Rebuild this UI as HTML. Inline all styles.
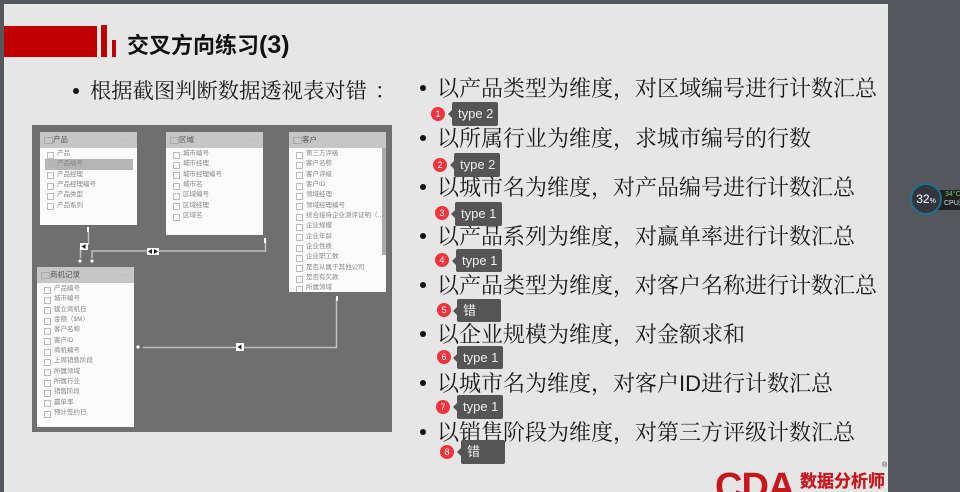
<!DOCTYPE html>
<html lang="zh">
<head>
<meta charset="utf-8">
<title>交叉方向练习(3)</title>
<style>
html,body{margin:0;padding:0;width:960px;height:492px;overflow:hidden;background:#54585c}
*{box-sizing:border-box}
#slide{position:absolute;left:4px;top:4px;width:884px;height:488px;background:#e6e6e6}
.a{position:absolute}
.title{position:absolute;left:127px;top:30px;font:bold 22px/30px "Liberation Sans","Noto Sans CJK SC",sans-serif;color:#111;white-space:nowrap}
.title span{font-size:25px}
.s{position:absolute;font:21.3px/30px "Liberation Serif","Noto Serif CJK SC",serif;color:#1a1a1a;white-space:nowrap}
.s span{position:relative;left:8px}
.l{position:absolute;left:437px;font:22px/30px "Liberation Sans","Noto Serif CJK SC",serif;color:#1a1a1a;white-space:nowrap}
.b{position:absolute;width:6px;height:6px;border-radius:50%;background:#111}
.tip{position:absolute;background:#555;border-radius:2px;color:#f0f0f0;font:13px/24px "Liberation Sans","Noto Sans CJK SC",sans-serif;padding-left:6px;white-space:nowrap}
.tip:before{content:"";position:absolute;left:-4px;top:8px;border:4px solid transparent;border-left:0;border-right-color:#555}
.c{position:absolute;width:14px;height:14px;border-radius:50%;background:#f0333c;color:#fff;font:9px/14px "Liberation Sans",sans-serif;text-align:center}
#dia{position:absolute;left:32px;top:125px;width:360px;height:307px;background:#6f6f6f}
.t{position:absolute;background:#fbfbfb;font:6.5px/10.35px "Liberation Sans","Noto Sans CJK SC",sans-serif;color:#888;overflow:hidden;filter:blur(.25px)}
.h{height:16px;background:#c6c6c6;color:#555;font-size:7.5px;line-height:16px;padding-left:13px;position:relative;margin-bottom:1px}
.h:before{content:"";position:absolute;left:4px;top:5px;width:7px;height:5px;border:1px solid #aaa}
.h:after{content:"···";position:absolute;right:4px;top:0;color:#aaa;letter-spacing:1px}
.r{height:10.35px;padding-left:17px;position:relative;white-space:nowrap}
.r:before{content:"";position:absolute;left:7px;top:2.5px;width:5px;height:5px;border:1px solid #bbb}
.r.sel{background:#b5b5b5;margin:0 4px 0 5px;padding-left:12px}
.r.sel:before{left:2px}
svg{position:absolute;left:0;top:0}
</style>
</head>
<body>
<div id="slide"></div>

<div class="a" style="left:4px;top:26px;width:93px;height:31px;background:#c00000"></div>
<div class="a" style="left:101px;top:25px;width:6px;height:32px;background:#c00000"></div>
<div class="a" style="left:112px;top:40px;width:4px;height:17px;background:#c00000"></div>
<div class="title">交叉方向练习<span>(3)</span></div>

<div class="b" style="left:73px;top:88px"></div>
<div class="s" style="left:90px;top:76px">根据截图判断数据透视表对错<span>：</span></div>

<div id="dia"></div>

<div class="t" style="left:40px;top:132px;width:97px;height:93px">
<div class="h">产品</div>
<div class="r">产品</div><div class="r sel">产品编号</div><div class="r">产品经理</div><div class="r">产品经理编号</div><div class="r">产品类型</div><div class="r">产品系列</div>
</div>

<div class="t" style="left:166px;top:132px;width:97px;height:103px">
<div class="h">区域</div>
<div class="r">城市编号</div><div class="r">城市经理</div><div class="r">城市经理编号</div><div class="r">城市名</div><div class="r">区域编号</div><div class="r">区域经理</div><div class="r">区域名</div>
</div>

<div class="t" style="left:289px;top:132px;width:97px;height:160px">
<div class="h">客户</div>
<div class="r">第三方评级</div><div class="r">客户名称</div><div class="r">客户评级</div><div class="r">客户ID</div><div class="r">领域经理</div><div class="r">领域经理编号</div><div class="r">统合接待企业测评证明（…</div><div class="r">企业规模</div><div class="r">企业年龄</div><div class="r">企业性质</div><div class="r">企业职工数</div><div class="r">是否从属于其他公司</div><div class="r">是否有欠款</div><div class="r">所属领域</div>
<div class="a" style="right:0;top:16px;width:4px;height:107px;background:#aaa"></div>
</div>

<div class="t" style="left:37px;top:267px;width:97px;height:160px">
<div class="h">商机记录</div>
<div class="r">产品编号</div><div class="r">城市编号</div><div class="r">建立商机日</div><div class="r">金额（$M）</div><div class="r">客户名称</div><div class="r">客户ID</div><div class="r">商机编号</div><div class="r">上周销售阶段</div><div class="r">所属领域</div><div class="r">所属行业</div><div class="r">销售阶段</div><div class="r">赢单率</div><div class="r">预计签约日</div>
</div>

<svg width="960" height="492" viewBox="0 0 960 492">
<g fill="none" stroke="#c0c0c0" stroke-width="1.5">
<path d="M88.5 232V244L80.5 249V258"/>
<path d="M92 258V251H265.5V238"/>
<path d="M143 347.5H336.5V298"/>
</g>
<g fill="#fff">
<rect x="80" y="243" width="8" height="7"/>
<rect x="147" y="248" width="12" height="7"/>
<rect x="236" y="343" width="8" height="8"/>
<circle cx="80" cy="261" r="1.6"/>
<circle cx="92" cy="261" r="1.6"/>
<circle cx="138" cy="347" r="1.6"/>
<rect x="87" y="227" width="2" height="5"/>
<rect x="264" y="238" width="2" height="5"/>
<rect x="336" y="296" width="2" height="5"/>
</g>
<g fill="#222">
<path d="M81.5 246.5L85.5 244V249Z"/>
<path d="M148 251.5L152 249V254Z"/>
<path d="M158 251.5L154 249V254Z"/>
<path d="M237.5 347L241.5 344.5V349.5Z"/>
</g>
</svg>

<div class="b" style="left:420px;top:85px"></div>
<div class="l" style="top:74px">以产品类型为维度，对区域编号进行计数汇总</div>
<div class="b" style="left:420px;top:135px"></div>
<div class="l" style="top:124px">以所属行业为维度，求城市编号的行数</div>
<div class="b" style="left:420px;top:184px"></div>
<div class="l" style="top:173px">以城市名为维度，对产品编号进行计数汇总</div>
<div class="b" style="left:420px;top:233px"></div>
<div class="l" style="top:222px">以产品系列为维度，对赢单率进行计数汇总</div>
<div class="b" style="left:420px;top:282px"></div>
<div class="l" style="top:271px">以产品类型为维度，对客户名称进行计数汇总</div>
<div class="b" style="left:420px;top:331px"></div>
<div class="l" style="top:320px">以企业规模为维度，对金额求和</div>
<div class="b" style="left:420px;top:380px"></div>
<div class="l" style="top:369px">以城市名为维度，对客户ID进行计数汇总</div>
<div class="b" style="left:420px;top:429px"></div>
<div class="l" style="top:418px">以销售阶段为维度，对第三方评级计数汇总</div>

<div class="c" style="left:431px;top:107px">1</div><div class="tip" style="left:452px;top:102px;width:46px;height:24px">type 2</div>
<div class="c" style="left:433px;top:158px">2</div><div class="tip" style="left:454px;top:153px;width:46px;height:24px">type 2</div>
<div class="c" style="left:435px;top:206px">3</div><div class="tip" style="left:455px;top:202px;width:47px;height:24px">type 1</div>
<div class="c" style="left:435px;top:253px">4</div><div class="tip" style="left:456px;top:249px;width:46px;height:23px">type 1</div>
<div class="c" style="left:437px;top:303px">5</div><div class="tip" style="left:457px;top:299px;width:44px;height:23px">错</div>
<div class="c" style="left:437px;top:350px">6</div><div class="tip" style="left:457px;top:346px;width:46px;height:23px">type 1</div>
<div class="c" style="left:436px;top:400px">7</div><div class="tip" style="left:457px;top:395px;width:46px;height:24px">type 1</div>
<div class="c" style="left:440px;top:445px">8</div><div class="tip" style="left:461px;top:440px;width:44px;height:24px">错</div>

<div class="a" style="left:0;top:472px;width:888px;height:20px;overflow:hidden">
<div class="a" style="left:715px;top:-4px;font:bold 38px/38px 'Liberation Sans',sans-serif;color:#c8161d;letter-spacing:-1px">CDA</div>
<div class="a" style="left:800px;top:-2px;font:bold 17px/20px 'Noto Sans CJK SC',sans-serif;color:#c8161d;white-space:nowrap;-webkit-text-stroke:.3px #c8161d">数据分析师</div>
</div>
<div class="a" style="left:882px;top:461px;font:7px/10px 'Liberation Sans',sans-serif;color:#333">®</div>

<div class="a" style="left:938px;top:190px;width:22px;height:20px;background:#1e2023"></div>
<div class="a" style="left:945px;top:190px;font:7px/9px 'Liberation Sans',sans-serif;color:#5fd35f;white-space:nowrap">34°C</div>
<div class="a" style="left:944px;top:199px;font:7px/9px 'Liberation Sans','Noto Sans CJK SC',sans-serif;color:#ddd;white-space:nowrap">CPU温</div>
<div class="a" style="left:910px;top:183px;width:32px;height:32px;border-radius:50%;background:#33363c;border:2px solid #1f6f8f;color:#fff;font:12px/28px 'Liberation Sans',sans-serif;text-align:center">32<span style="font-size:7px">%</span></div>
</body>
</html>
